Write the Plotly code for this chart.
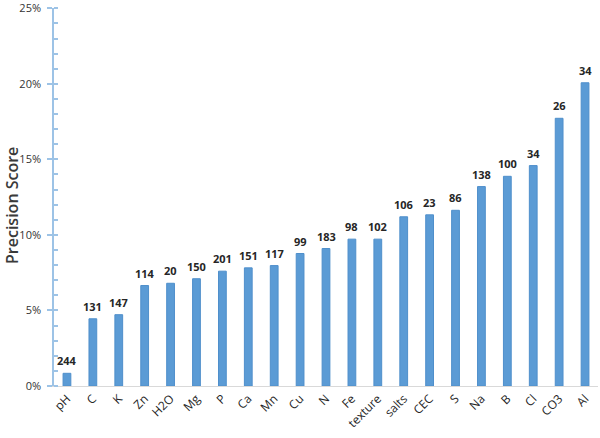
import plotly.graph_objects as go

categories = ["pH", "C", "K", "Zn", "H2O", "Mg", "P", "Ca", "Mn", "Cu", "N", "Fe",
              "texture", "salts", "CEC", "S", "Na", "B", "Cl", "CO3", "Al"]
precision = [0.0084, 0.0445, 0.0472, 0.0665, 0.068, 0.071, 0.076, 0.0782, 0.0797,
             0.0877, 0.091, 0.0972, 0.0972, 0.112, 0.1133, 0.1163, 0.132, 0.1388,
             0.1459, 0.1772, 0.2007]
counts = [244, 131, 147, 114, 20, 150, 201, 151, 117, 99, 183, 98, 102, 106, 23,
          86, 138, 100, 34, 26, 34]

fig = go.Figure()
fig.add_trace(go.Bar(
    x=categories, y=precision,
    marker=dict(color="#5B9BD5", line=dict(color="#4F8FCB", width=1)),
    hoverinfo="x+y",
))
for cat, val, cnt in zip(categories, precision, counts):
    fig.add_annotation(
        x=cat, y=val, text=str(cnt), showarrow=False,
        yanchor="bottom", yshift=3,
        font=dict(family="Open Sans", size=11, color="#262626", weight="bold"),
    )
fig.add_annotation(
    xref="paper", yref="paper", x=0, y=0.5, xshift=-42, yshift=-9,
    text="Precision Score", textangle=-90, showarrow=False,
    xanchor="center", yanchor="middle", borderpad=0,
    font=dict(family="Open Sans", size=16, color="#3a3a3a", weight=600),
)
fig.update_layout(
    width=600, height=438,
    margin=dict(l=54, r=2, t=8, b=52),
    plot_bgcolor="white", paper_bgcolor="white",
    bargap=0.7, showlegend=False,
    font=dict(family="Open Sans", color="#404040"),
)
fig.update_xaxes(
    range=[-0.5, len(categories) - 0.5],
    tickangle=-45, showgrid=False, showline=True, linecolor="#D9D9D9", linewidth=1,
    tickfont=dict(size=12, color="#262626"), ticks="", automargin=False,
)
fig.update_yaxes(
    range=[0, 0.2502], tickformat=".0%", tickvals=[0, 0.05, 0.1, 0.15, 0.2, 0.25],
    showgrid=False, zeroline=False, ticklabeloverflow="allow",
    showline=True, linecolor="#9DC3E6", linewidth=1.5,
    ticks="outside", ticklen=5, tickcolor="#9DC3E6", tickwidth=1.5,
    ticklabelstandoff=4,
    minor=dict(tickvals=[i / 100 for i in range(26)], ticks="inside", ticklen=4,
               tickcolor="#9DC3E6"),
    tickfont=dict(size=11, color="#333333"), automargin=False,
)
fig.write_html("out.html", config={"displayModeBar": False},
               post_script="document.body.style.margin='0';document.body.style.overflow='hidden';")
